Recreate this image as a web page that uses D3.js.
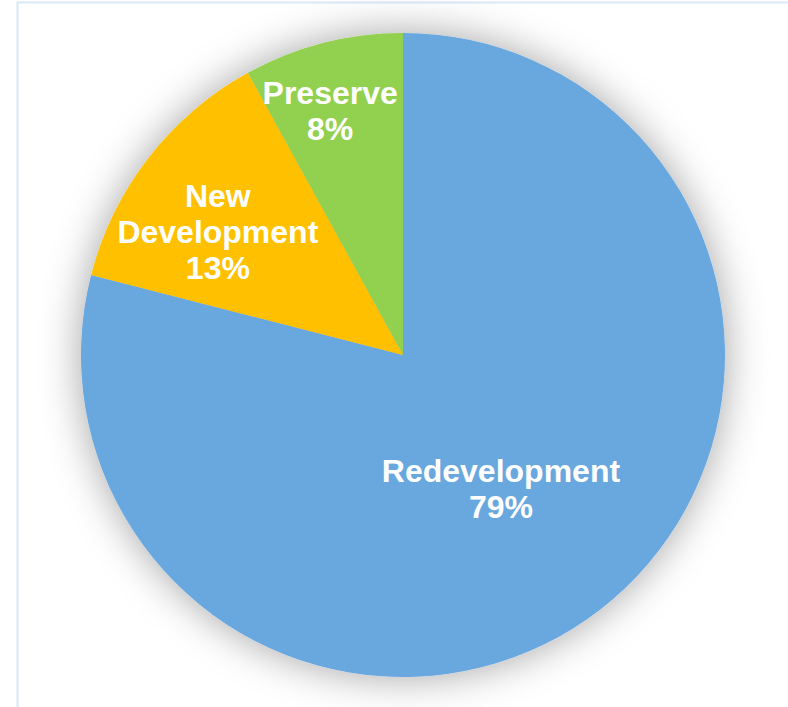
<!DOCTYPE html>
<html>
<head>
<meta charset="utf-8">
<script src="https://cdn.jsdelivr.net/npm/d3@7"></script>
<style>
  html, body { margin: 0; padding: 0; background: #fff; }
  svg { display: block; }
</style>
</head>
<body>
<svg id="chart" width="788" height="707"></svg>
<script>
// Land-use shares, clockwise from 12 o'clock
const categories = ["Redevelopment", "New Development", "Preserve"];
const shares = [79, 13, 8];
const colors = ["#69A7DF", "#FFC000", "#92D050"];
// Label lines per slice (name words wrapped as shown)
const labelLines = [["Redevelopment"], ["New", "Development"], ["Preserve"]];
// Label placement: radius as a fraction of the pie radius, and a small angular nudge (degrees)
const labelRadius = [0.515, 0.692, 0.792];
const labelTurn = [1.6, -4, -2.2];

const width = 788, height = 707;
const cx = 403, cy = 355, radius = 322;

const svg = d3.select("#chart");

// Frame
svg.append("rect")
  .attr("x", 17.5).attr("y", 2.5)
  .attr("width", width + 20).attr("height", height + 20)
  .attr("fill", "none")
  .attr("stroke", "#DCE8F5")
  .attr("stroke-width", 2);

// Soft shadow around the pie
const defs = svg.append("defs");
const f = defs.append("filter").attr("id", "glow")
  .attr("x", "-25%").attr("y", "-25%").attr("width", "150%").attr("height", "150%");
f.append("feDropShadow")
  .attr("dx", 0).attr("dy", 0)
  .attr("stdDeviation", 20)
  .attr("flood-color", "#000")
  .attr("flood-opacity", 0.36);

const data = categories.map((c, i) => ({ name: c, value: shares[i], i }));

const pie = d3.pie().value(d => d.value).sort(null);
const arcs = pie(data);
const arc = d3.arc().innerRadius(0).outerRadius(radius);

const g = svg.append("g").attr("transform", `translate(${cx},${cy})`);

g.append("g").attr("filter", "url(#glow)")
  .selectAll("path")
  .data(arcs)
  .join("path")
  .attr("d", arc)
  .attr("fill", d => colors[d.data.i]);

const fontSize = 32, lineH = 36;

g.selectAll("text.lbl")
  .data(arcs)
  .join("text")
  .attr("class", "lbl")
  .attr("text-anchor", "middle")
  .attr("fill", "#fff")
  .attr("font-family", "Liberation Sans, Arial, sans-serif")
  .attr("font-weight", "bold")
  .attr("font-size", fontSize)
  .each(function (d) {
    const i = d.data.i;
    const a = (d.startAngle + d.endAngle) / 2 + labelTurn[i] * Math.PI / 180;
    const r = radius * labelRadius[i];
    const x = r * Math.sin(a), y = -r * Math.cos(a);
    const lines = labelLines[i].concat([d.data.value + "%"]);
    const n = lines.length;
    const t = d3.select(this);
    lines.forEach((ln, k) => {
      t.append("tspan")
        .attr("x", x)
        .attr("y", y + (k - (n - 1) / 2) * lineH + fontSize * 0.36)
        .text(ln);
    });
  });
</script>
</body>
</html>
